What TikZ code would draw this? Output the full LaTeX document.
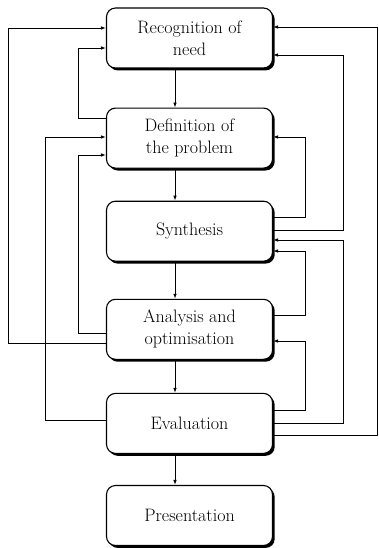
\documentclass[tikz,border=0pt]{standalone}
\usepackage{fontspec}
\usepackage{tikz}
\usetikzlibrary{arrows.meta, positioning, shadows}

\begin{document}
\begin{tikzpicture}[
  x=1pt, y=-1pt,
  stage/.style={draw, fill=white, line width=1.1pt, rounded corners=9pt, align=center,
    minimum width=166pt, minimum height=60pt, inner sep=2pt,
    font=\fontsize{18}{22}\selectfont,
    drop shadow={shadow xshift=2.2pt, shadow yshift=-2.4pt, opacity=1, fill=black}},
  flow/.style={line width=0.9pt, -{Latex[length=5pt, width=3.6pt]}},
  fb/.style={flow}
]
\useasboundingbox (0,0) rectangle (378,548);

% Stages, top to bottom
\node[stage] (rec) at (189.5,38) {Recognition of\\need};
\node[stage, below=39pt of rec] (def) {Definition of\\the problem};
\node[stage, below=32pt of def] (syn) {Synthesis};
\node[stage, below=37pt of syn] (ana) {Analysis and\\optimisation};
\node[stage, below=33pt of ana] (eva) {Evaluation};
\node[stage, below=31pt of eva] (pre) {Presentation};

% Main flow
\coordinate (spine) at (175,0);
\draw[flow] (rec.south -| spine) -- (def.north -| spine);
\draw[flow] (def.south -| spine) -- (syn.north -| spine);
\draw[flow] (syn.south -| spine) -- (ana.north -| spine);
\draw[flow] (ana.south -| spine) -- (eva.north -| spine);
\draw[flow] (eva.south -| spine) -- (pre.north -| spine);

% Feedback, left side
\draw[fb] (ana.west |- 0,343) -| (8,28) -- (rec.west |- 0,28);
\draw[fb] (def.west |- 0,118) -| (78,48) -- (rec.west |- 0,48);
\draw[fb] (eva.west |- 0,420) -| (45,137) -- (def.west |- 0,137);
\draw[fb] (ana.west |- 0,333) -| (78,155) -- (def.west |- 0,155);

% Feedback, right side
\draw[fb] (eva.east |- 0,435) -| (377,27) -- (rec.east |- 0,27);
\draw[fb] (syn.east |- 0,230) -| (343,55) -- (rec.east |- 0,55);
\draw[fb] (syn.east |- 0,217) -| (305,137) -- (def.east |- 0,137);
\draw[fb] (eva.east |- 0,423) -| (343,240) -- (syn.east |- 0,240);
\draw[fb] (ana.east |- 0,315) -| (305,251) -- (syn.east |- 0,251);
\draw[fb] (eva.east |- 0,410) -| (305,341) -- (ana.east |- 0,341);

\end{tikzpicture}
\end{document}
